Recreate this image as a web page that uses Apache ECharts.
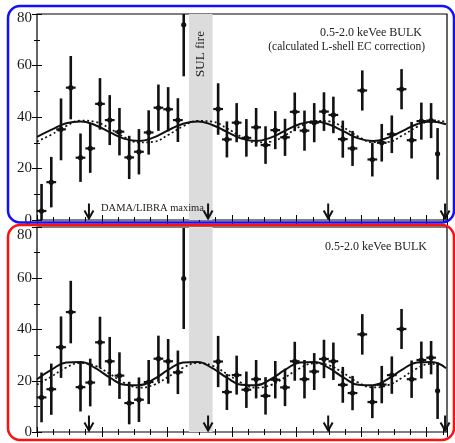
<!DOCTYPE html>
<html>
<head>
<meta charset="utf-8">
<script src="https://cdn.jsdelivr.net/npm/echarts@6/dist/echarts.min.js"></script>
<style>html,body{margin:0;padding:0;background:#fff}#c{width:455px;height:443px}</style>
</head>
<body>
<div id="c"></div>
<script>
// ---- data (days since start of run) ----
const preDays  = [14, 44, 74, 104, 134, 164, 194, 224, 254, 284, 314, 344, 374, 404, 434, 452];
const postDays = [558, 585, 615, 645, 675, 704, 734, 764, 794, 824, 854, 884, 913, 942, 972, 1002, 1033, 1062, 1093, 1123, 1154, 1184, 1214, 1234];
const preHalfBin  = [15, 15, 15, 15, 15, 15, 15, 15, 15, 15, 15, 15, 15, 15, 15, 0];
const postHalfBin = [15, 15, 15, 15, 15, 15, 15, 15, 15, 15, 15, 15, 15, 15, 15, 15, 15, 15, 15, 15, 15, 15, 15, 0];

const topPreVals  = [3.5, 14.7, 35.2, 51.4, 24.2, 27.8, 45.1, 38.8, 34.3, 24.3, 26.5, 34.0, 43.6, 43.0, 38.8, 75.8];
const topPreErr   = [10.5, 9.8, 12.0, 12.3, 9.4, 9.5, 10.0, 9.7, 9.2, 8.4, 8.8, 8.6, 9.0, 8.6, 8.5, 20.0];
const topPostVals = [43.1, 31.3, 37.8, 31.9, 36.0, 29.1, 34.9, 32.1, 42.0, 34.7, 37.8, 42.1, 40.8, 31.4, 27.8, 50.3, 23.5, 30.0, 33.3, 50.8, 31.0, 38.4, 38.6, 25.7];
const topPostErr  = [10.0, 7.0, 7.6, 7.3, 7.5, 7.3, 7.4, 7.2, 7.5, 7.8, 7.6, 7.5, 7.1, 7.2, 6.8, 7.8, 6.6, 7.3, 7.3, 7.8, 7.1, 7.2, 6.8, 10.0];

const botPreVals  = [13.5, 16.7, 33.1, 46.8, 17.5, 19.3, 35.0, 27.6, 22.0, 11.3, 12.6, 19.5, 28.6, 27.6, 23.3, 59.9];
const botPreErr   = [9.7, 10.0, 12.0, 12.2, 9.5, 9.3, 10.0, 9.5, 9.1, 8.3, 8.7, 8.6, 9.0, 8.7, 8.5, 19.7];
const botPostVals = [27.5, 15.6, 22.2, 16.5, 20.6, 14.1, 20.4, 17.4, 27.6, 20.6, 23.6, 28.5, 27.6, 18.4, 15.2, 38.1, 11.7, 18.5, 22.2, 40.2, 20.6, 28.1, 29.0, 16.1];
const botPostErr  = [10.0, 7.0, 7.6, 7.1, 7.5, 7.3, 7.3, 7.3, 7.6, 7.5, 7.2, 7.5, 7.3, 7.0, 6.7, 7.9, 6.3, 7.3, 7.3, 7.8, 7.3, 7.2, 6.5, 11.0];

const curveDays = [0, 45, 90, 135, 180, 225, 270, 315, 360, 405, 450, 495, 540, 585, 630, 675, 720, 765, 810, 855, 900, 945, 990, 1035, 1080, 1125, 1170, 1215, 1260];
const topFit  = [32.3, 35.1, 37.6, 38.3, 36.8, 34.0, 31.5, 30.7, 32.1, 34.9, 37.4, 38.3, 36.9, 34.2, 31.6, 30.7, 32.0, 34.7, 37.3, 38.3, 37.1, 34.4, 31.7, 30.7, 31.9, 34.5, 37.2, 38.3, 37.2];
const topDama = [30.5, 33.2, 36.5, 38.6, 38.1, 35.5, 32.1, 30.1, 30.4, 33.1, 36.4, 38.5, 38.2, 35.6, 32.3, 30.1, 30.4, 32.9, 36.3, 38.5, 38.3, 35.8, 32.4, 30.2, 30.3, 32.8, 36.1, 38.4, 38.3];
const botFit  = [20.6, 24.3, 27.1, 27.3, 24.9, 21.2, 18.4, 18.2, 20.6, 24.3, 27.1, 27.3, 24.9, 21.2, 18.4, 18.2, 20.6, 24.3, 27.1, 27.3, 24.9, 21.2, 18.4, 18.2, 20.6, 24.3, 27.1, 27.3, 24.9];
const botDama = [18.5, 21.7, 25.2, 26.9, 25.8, 22.6, 19.1, 17.3, 18.4, 21.6, 25.1, 26.9, 25.9, 22.7, 19.2, 17.3, 18.3, 21.4, 24.9, 26.8, 26.0, 22.9, 19.3, 17.4, 18.2, 21.2, 24.8, 26.6, 25.4];

const sulFire = [468, 541];
const damaMaxima = [160, 527, 897, 1257];
const yTicks = [0, 20, 40, 60, 80];
const xRange = [0, 1263];

// ---- build ----
const SERIF = "'Liberation Serif', 'DejaVu Serif', serif";
const days = preDays.concat(postDays);
const halfBin = preHalfBin.concat(postHalfBin);
function pts(vals, errs) { return days.map((d, i) => [d, vals[i], errs[i], halfBin[i]]); }
const topPts = pts(topPreVals.concat(topPostVals), topPreErr.concat(topPostErr));
const botPts = pts(botPreVals.concat(botPostVals), botPreErr.concat(botPostErr));
function curve(arr) { return curveDays.map((d, i) => [d, arr[i]]); }

function renderErr(params, api) {
  const x = api.value(0), y = api.value(1), e = api.value(2), h = api.value(3);
  const cs = params.coordSys;
  const cl = v => Math.max(cs.y, Math.min(cs.y + cs.height, v));
  const c = api.coord([x, y]);
  const t = cl(api.coord([x, y + e])[1]);
  const b = cl(api.coord([x, y - e])[1]);
  const ch = [{ type: 'line', shape: { x1: c[0], y1: t, x2: c[0], y2: b }, style: { stroke: '#111', lineWidth: 2.6 } }];
  if (h > 0) {
    const l = api.coord([x - h, y])[0], r = api.coord([x + h, y])[0];
    ch.push({ type: 'line', shape: { x1: l, y1: c[1], x2: r, y2: c[1] }, style: { stroke: '#111', lineWidth: 2.2 } });
  }
  ch.push({ type: 'circle', shape: { cx: c[0], cy: c[1], r: 2.6 }, style: { fill: '#111' } });
  return { type: 'group', children: ch };
}
function renderArrow(params, api) {
  const p = api.coord([api.value(0), api.value(1)]);
  const x = p[0], y = p[1] - 1.5;
  return { type: 'group', children: [
    { type: 'line', shape: { x1: x, y1: y - 15, x2: x, y2: y }, style: { stroke: '#111', lineWidth: 2 } },
    { type: 'polyline', shape: { points: [[x - 4.5, y - 8], [x, y], [x + 4.5, y - 8]] }, style: { stroke: '#111', lineWidth: 2, fill: null } }
  ] };
}

const grids = [
  { left: 37, right: 8, top: 14, height: 206, show: true, borderColor: '#000', borderWidth: 1.2, backgroundColor: 'transparent' },
  { left: 37, right: 8, top: 227, height: 205, show: true, borderColor: '#000', borderWidth: 1.2, backgroundColor: 'transparent' }
];
function xAx(gi, pos) {
  return { type: 'value', gridIndex: gi, position: pos, min: xRange[0], max: xRange[1], interval: 200,
    axisLine: { show: false }, axisLabel: { show: false }, splitLine: { show: false },
    axisTick: { show: true, inside: true, length: 5, lineStyle: { color: '#000', width: 1 } },
    minorTick: { show: true, splitNumber: 4, length: 3, lineStyle: { color: '#000', width: 1 } } };
}
function yAx(gi, pos, shift) {
  return { type: 'value', gridIndex: gi, position: pos, min: yTicks[0], max: yTicks[yTicks.length - 1], interval: 20,
    axisLine: { show: false }, splitLine: { show: false },
    axisLabel: { show: pos === 'left', margin: 5, color: '#1a1a1a', fontFamily: SERIF, fontSize: 15,
      formatter: v => (v === 80 ? '{m|80}' : String(v)),
      rich: { m: { fontFamily: SERIF, fontSize: 15, color: '#1a1a1a', padding: [shift, 0, 0, 0] } } },
    axisTick: { show: true, inside: true, length: 5, lineStyle: { color: '#000', width: 1 } },
    minorTick: { show: true, splitNumber: 2, length: 3, lineStyle: { color: '#000', width: 1 } } };
}

function panelSeries(gi, pointsData, fit, dama) {
  const xi = gi * 2, yi = gi * 2;
  return [
    { type: 'line', xAxisIndex: xi, yAxisIndex: yi, data: [], silent: true,
      markArea: { silent: true, itemStyle: { color: '#dcdcdc' }, data: [[{ xAxis: sulFire[0] }, { xAxis: sulFire[1] }]] } },
    { type: 'line', xAxisIndex: xi, yAxisIndex: yi, data: curve(dama), smooth: 0.45, symbol: 'none', z: 3,
      lineStyle: { color: '#111', width: 1.7, type: [2, 2.6] } },
    { type: 'line', xAxisIndex: xi, yAxisIndex: yi, data: curve(fit), smooth: 0.45, symbol: 'none', z: 4,
      lineStyle: { color: '#111', width: 2 } },
    { type: 'custom', xAxisIndex: xi, yAxisIndex: yi, data: pointsData, renderItem: renderErr, z: 5 },
    { type: 'custom', xAxisIndex: xi, yAxisIndex: yi, data: damaMaxima.map(d => [d, 0]), renderItem: renderArrow, z: 6 }
  ];
}

const chart = echarts.init(document.getElementById('c'), null, { renderer: 'canvas' });
chart.setOption({
  animation: false,
  backgroundColor: '#fff',
  grid: grids,
  xAxis: [xAx(0, 'bottom'), xAx(0, 'top'), xAx(1, 'bottom'), xAx(1, 'top')],
  yAxis: [yAx(0, 'left', 9), yAx(0, 'right', 0), yAx(1, 'left', 17), yAx(1, 'right', 0)],
  series: panelSeries(0, topPts, topFit, topDama).concat(panelSeries(1, botPts, botFit, botDama)),
  graphic: [
    { type: 'rect', shape: { x: 8, y: 6, width: 446, height: 216.5, r: 12 }, style: { fill: null, stroke: '#1010ff', lineWidth: 2.5 }, z: 100 },
    { type: 'rect', shape: { x: 8, y: 225, width: 446, height: 215, r: 12 }, style: { fill: null, stroke: '#ff1010', lineWidth: 2.5 }, z: 100 },
    { type: 'text', x: 201, y: 54, rotation: Math.PI / 2, style: { text: 'SUL fire', font: "13px 'Liberation Serif'", fill: '#222', textAlign: 'center', textVerticalAlign: 'middle' }, z: 50 },
    { type: 'text', x: 422, y: 33, style: { text: '0.5-2.0 keVee BULK', font: "12px 'Liberation Serif'", fill: '#222', textAlign: 'right', textVerticalAlign: 'middle' }, z: 50 },
    { type: 'text', x: 425, y: 47, style: { text: '(calculated L-shell EC correction)', font: "11.5px 'Liberation Serif'", fill: '#222', textAlign: 'right', textVerticalAlign: 'middle' }, z: 50 },
    { type: 'text', x: 101, y: 208, style: { text: 'DAMA/LIBRA maxima', font: "10.5px 'Liberation Serif'", fill: '#222', textAlign: 'left', textVerticalAlign: 'middle' }, z: 50 },
    { type: 'text', x: 427, y: 247, style: { text: '0.5-2.0 keVee BULK', font: "12px 'Liberation Serif'", fill: '#222', textAlign: 'right', textVerticalAlign: 'middle' }, z: 50 }
  ]
});
</script>
</body>
</html>
